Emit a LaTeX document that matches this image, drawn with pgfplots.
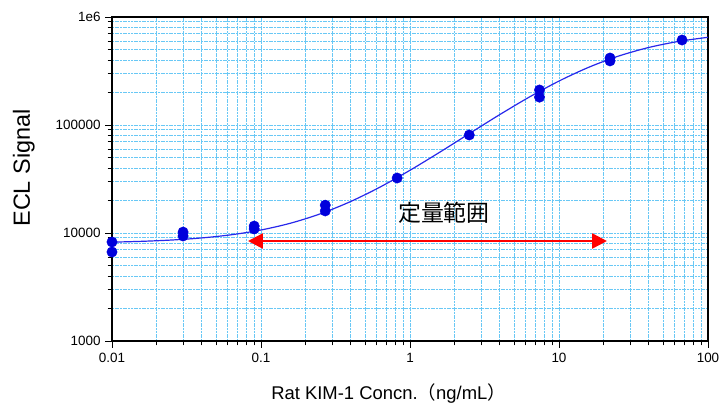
\documentclass[border=0pt]{standalone}
\usepackage{fontspec}
\setmainfont{Liberation Sans}
\newfontfamily\jpfont{Noto Sans CJK JP}
\usepackage{pgfplots}
\pgfplotsset{compat=1.18}
\usetikzlibrary{arrows.meta}
\definecolor{gridc}{RGB}{105,200,245}
\definecolor{ptc}{RGB}{0,0,220}
\definecolor{curvec}{RGB}{40,40,235}
\begin{document}
\begin{tikzpicture}
\begin{axis}[
  xmode=log, ymode=log,
  scale only axis, width=596bp, height=324bp,
  xmin=0.01, xmax=100, ymin=1000, ymax=1000000,
  xtick={0.01,0.1,1,10,100}, xticklabels={0.01,0.1,1,10,100},
  ytick={1000,10000,100000,1000000}, yticklabels={1000,10000,100000,1e6},
  tick align=outside, tick pos=left,
  major tick length=7bp, minor tick length=4.5bp,
  tick style={black, line width=0.9bp},
  grid=both,
  major grid style={gridc, line width=0.9bp, dash pattern=on 2bp off 0.7bp},
  minor grid style={gridc, line width=0.9bp, dash pattern=on 2bp off 0.7bp},
  axis line style={line width=1.3bp},
  /pgf/number format/assume math mode=true,
  tick label style={font=\fontsize{13.5}{15}\selectfont},
  xticklabel style={yshift=-2bp},
  yticklabel style={xshift=-1bp},
  xlabel={Rat KIM-1 Concn.{\jpfont （}ng/mL{\jpfont ）}},
  ylabel={ECL Signal},
  xlabel style={at={(axis description cs:0.464,-0.163)}, anchor=center, font=\fontsize{18.5}{21}\selectfont},
  ylabel style={at={(axis description cs:-0.148,0.534)}, anchor=center, rotate=0, font=\fontsize{23.5}{26}\selectfont},
]
\addplot[curvec, line width=1.2bp, smooth, no marks] coordinates {
(0.01,8227) (0.01585,8372) (0.02512,8608) (0.03981,8995) (0.0631,9626)
(0.1,10659) (0.1585,12342) (0.2512,15081) (0.3981,19516) (0.631,26660)
(1,38092) (1.585,56020) (2.512,83547) (3.981,124229) (6.31,181192)
(10,255206) (15.85,342520) (25.12,434668) (39.81,521030) (63.1,593427) (100,648599)
};
\addplot[only marks, mark=*, mark size=5.2bp, mark options={ptc, fill=ptc}] coordinates {
(0.01,8260) (0.01,6670)
(0.03,10200) (0.03,9380)
(0.09,11600) (0.09,10900)
(0.27,18100) (0.27,16000)
(0.82,32300)
(2.5,80800)
(7.4,211000) (7.4,181000)
(22,417000) (22,392000)
(67,612000)
};
\draw[red, line width=2.6bp, {Triangle[length=15bp,width=15bp]}-{Triangle[length=15bp,width=15bp]}] (axis cs:0.0818,8430) -- (axis cs:21,8430);
\node[font=\jpfont\fontsize{23}{26}\selectfont, anchor=center] at (axis cs:1.69,15300) {定量範囲};
\coordinate (sw) at (rel axis cs:0,0);
\end{axis}
\pgfresetboundingbox
\path (sw) ++(-112bp,-68bp) rectangle ++(722bp,409bp);
\end{tikzpicture}
\end{document}
